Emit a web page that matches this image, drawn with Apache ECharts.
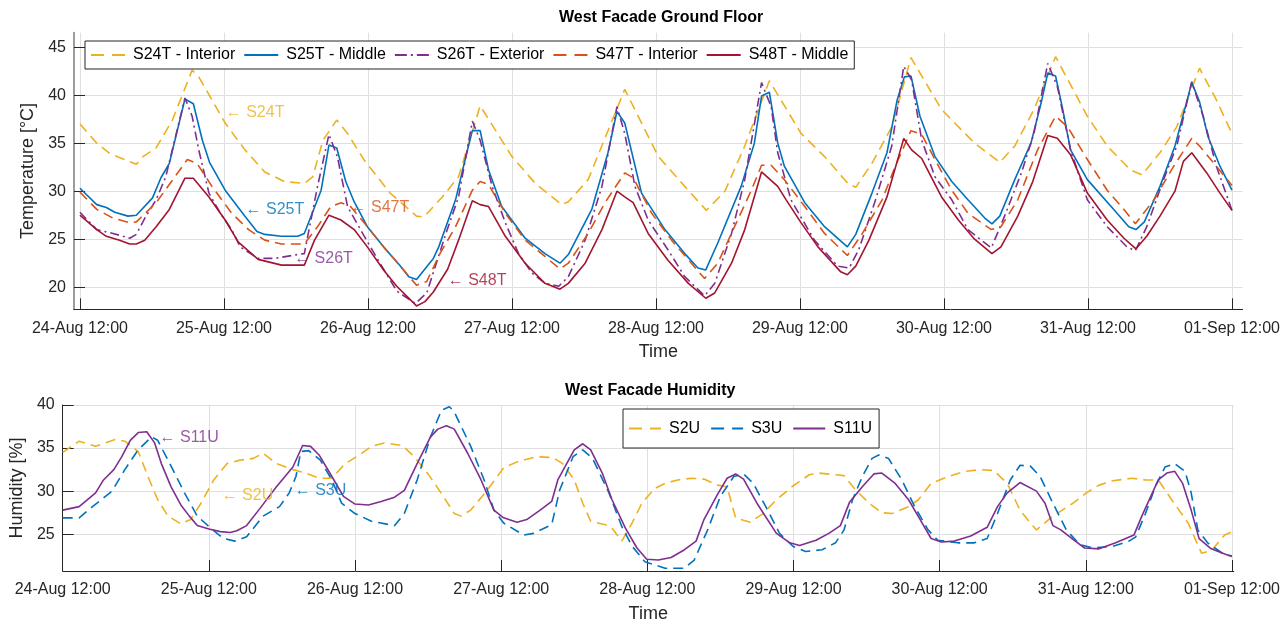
<!DOCTYPE html>
<html>
<head>
<meta charset="UTF-8">
<title>West Facade</title>
<script src="https://cdn.jsdelivr.net/npm/echarts@6/dist/echarts.min.js"></script>
<style>
  html, body { margin: 0; padding: 0; background: #fff; }
  #main { width: 1283px; height: 624px; }
</style>
</head>
<body>
<div id="main"></div>
<script>
// start of both records: 24-Aug 12:00 (hours are counted from here)
var T0 = Date.UTC(2021, 7, 24, 12, 0);
var HOUR = 3600000;
var dayTicks = [0, 24, 48, 72, 96, 120, 144, 168, 192];

// [hours, value]
var s24t = [[0,37.0],[2.8,35.0],[5,33.9],[9.4,32.8],[10.5,33.6],[12.7,34.5],[15.4,37.4],[18.7,42.6],[19.8,41.9],[22,39.5],[24.2,37.1],[27.5,34.3],[30.8,32.0],[34.1,31.0],[37.4,30.8],[38.8,31.5],[40.5,35.3],[42.8,37.4],[44.6,36.0],[47.3,33.3],[51.7,29.8],[56.1,27.4],[57.3,27.3],[60.4,29.4],[63.1,31.5],[66.7,38.9],[72,33.6],[75.9,30.8],[80.3,28.6],[81.4,28.9],[84.7,31.2],[90.8,40.6],[96.4,33.6],[100.8,30.5],[104.4,28.0],[107.5,30.0],[110.8,34.7],[114.9,41.5],[120.2,36.0],[124.1,33.6],[128,30.8],[129.3,30.4],[132,32.9],[135.3,36.7],[138.5,43.9],[143.6,38.5],[149.1,35.0],[153.3,33.0],[155.8,34.7],[159,38.5],[162.6,44.0],[167.9,37.8],[171.2,34.7],[175.1,32.2],[177,31.7],[180,34.0],[182.8,36.7],[186.6,42.8],[189.4,39.5],[192,36.0]];
var s25t = [[0,30.3],[2.8,28.6],[4.4,28.3],[5.8,27.8],[8,27.4],[9.4,27.5],[12.1,29.3],[13.5,31.4],[14.9,32.9],[17.5,39.6],[18.9,39.1],[20.4,35.3],[21.6,33.0],[24.2,30.1],[27.5,27.4],[29.5,25.8],[30.8,25.5],[33.6,25.3],[36.3,25.3],[37.4,25.6],[40.2,30.1],[41.5,34.8],[42.8,34.5],[44.3,31.0],[45.7,28.9],[47.9,26.3],[50.6,24.2],[53.4,22.2],[54.8,21.1],[56.1,20.8],[58.9,23.0],[59.8,24.2],[62.6,29.1],[64.2,33.3],[65.4,36.3],[66.7,36.3],[68.1,32.2],[70.3,28.4],[74.2,25.1],[77.5,23.5],[80,22.5],[81.4,23.4],[85.3,28.1],[88,34.0],[89.5,38.3],[90.8,37.1],[93.6,29.8],[97.5,26.0],[100.8,23.5],[103,22.0],[104.3,21.8],[106.3,24.6],[110.2,30.5],[112.4,35.0],[113.6,39.9],[114.9,40.3],[116.3,35.0],[117.4,32.6],[120.8,28.8],[124.1,26.3],[127.9,24.2],[129.3,25.5],[132,29.8],[134.5,34.0],[136.2,39.5],[137.4,41.9],[138.5,42.0],[140,37.8],[142.5,33.6],[145.3,31.0],[148,29.1],[150.8,27.2],[152,26.6],[153.3,27.4],[155.8,31.2],[158.5,35.0],[160.2,39.2],[161.3,42.3],[162.6,42.0],[163.8,38.5],[165.1,34.3],[167.9,31.2],[172.3,28.1],[174.8,26.3],[176,26.0],[177.4,26.8],[180,30.5],[182.5,34.7],[185.3,41.3],[186.6,39.3],[188,35.7],[190,32.6],[192,30.1]];
var s26t = [[0,27.8],[2.8,26.0],[5.5,25.6],[8.3,25.1],[9.4,25.5],[11,27.4],[12.7,29.1],[14.3,31.5],[17.5,39.7],[18.7,37.8],[19.8,34.3],[21.5,29.8],[23.4,27.7],[25.3,26.0],[26.7,24.2],[29.7,23.0],[32.5,23.0],[36.3,23.4],[37.4,23.5],[39.6,30.5],[41.5,35.9],[42.9,33.6],[44.6,28.4],[47.3,25.4],[50.1,22.4],[52.8,19.6],[55.9,18.3],[57.8,19.4],[61,25.6],[63.1,29.4],[65.4,37.3],[66.7,35.3],[68.7,30.5],[70.9,26.7],[73.1,23.5],[75.3,21.5],[77.5,20.4],[79.8,20.1],[81.4,21.1],[84.2,24.9],[87,30.5],[89.5,38.8],[90.8,36.0],[92.5,30.5],[94.7,27.0],[98,23.9],[100.8,21.1],[104.1,19.1],[105.8,20.4],[108.6,25.6],[110.8,31.2],[113.6,41.3],[115.2,38.8],[116.3,34.0],[118.5,29.1],[122.4,24.9],[126.3,22.2],[128.2,22.0],[129.8,23.9],[132.6,29.1],[135.3,34.7],[137.3,43.0],[138.6,41.6],[140.3,35.3],[142.5,31.5],[145.3,29.1],[148,26.0],[150.2,24.9],[151.9,24.1],[154.1,27.4],[156.9,31.9],[159,36.0],[161.3,43.3],[162.9,40.9],[165.1,34.3],[167.9,29.1],[171.2,26.3],[174.5,24.2],[175.9,23.8],[177.8,26.3],[180.6,31.2],[182.8,34.7],[185.3,41.4],[187.2,37.8],[189.4,32.6],[192,28.0]];
var s47t = [[0,29.9],[2.8,28.1],[5.5,27.2],[8.3,26.7],[9.4,26.8],[12.7,28.8],[14.9,30.7],[17.9,33.3],[19.5,32.9],[22,30.5],[25.3,27.7],[28.1,26.0],[30.8,24.9],[33.6,24.5],[37.4,24.5],[39.6,26.3],[41.8,28.4],[43.5,28.8],[45.1,28.4],[47.9,26.3],[50.6,24.2],[53.4,22.2],[56.1,20.2],[57.8,20.6],[60,23.5],[62.6,26.3],[65.4,30.1],[66.7,31.0],[68.1,30.7],[70.9,27.7],[74.2,24.9],[77.5,23.2],[80,21.9],[81.4,22.5],[84.7,25.6],[87.5,28.8],[90.8,31.9],[92.2,31.4],[95.3,27.7],[98.6,24.9],[101.9,22.5],[104.1,20.9],[106.3,22.5],[109.1,26.3],[111.9,30.1],[113.6,32.7],[115.2,32.7],[117.4,31.2],[120.8,28.4],[124.1,25.6],[127.9,23.3],[130.4,25.6],[133.7,29.1],[135.9,32.6],[138.5,36.3],[140.3,35.9],[142.5,33.3],[145.3,30.1],[148,27.7],[151.9,26.0],[153.5,26.3],[156.3,29.1],[159.6,34.3],[162.6,37.8],[164.6,36.7],[167.9,33.3],[171.2,30.1],[174,28.1],[175.9,26.6],[179,29.1],[182.3,32.6],[185.3,35.5],[186.6,34.7],[189.4,32.6],[192,30.6]];
var s48t = [[0,27.5],[2.8,26.0],[4.4,25.3],[6.6,24.9],[8.3,24.5],[9.4,24.5],[10.8,24.9],[12.7,26.3],[14.9,28.1],[17.5,31.35],[18.9,31.35],[21.5,29.4],[24.2,27.0],[26.4,24.7],[29.7,22.9],[33.6,22.3],[37.4,22.3],[39.1,24.9],[41.5,27.5],[43.5,27.0],[45.7,26.0],[47.9,24.2],[50.6,21.8],[52.8,20.1],[56.1,18.05],[57.5,18.5],[58.9,19.5],[61.3,21.9],[63.1,24.9],[65.4,29.0],[66.7,28.6],[68.1,28.4],[70.9,25.3],[74.2,22.5],[77.5,20.4],[80,19.8],[81.4,20.4],[84.2,22.5],[87,26.0],[89.5,30.0],[90.8,29.4],[92.2,28.8],[94.7,25.6],[98,22.8],[101.4,20.4],[104.3,18.85],[105.8,19.4],[108.6,22.5],[110.8,26.0],[113.6,32.0],[116.3,30.5],[117.7,29.1],[120.2,26.7],[123,24.2],[126.8,21.6],[127.9,21.3],[129.3,22.2],[131.5,24.9],[134.5,29.4],[137.3,35.5],[138.6,34.3],[140.3,33.4],[143.6,29.4],[146.4,27.0],[149.1,25.0],[152,23.5],[153.5,24.2],[156.3,27.4],[158.8,31.0],[161.3,35.8],[162.9,35.5],[165.1,33.8],[167.9,29.8],[171.2,27.0],[174,25.1],[176,24.0],[177.8,25.3],[180,27.4],[182.5,30.0],[183.9,33.1],[185.3,34.0],[187.8,31.9],[190,29.8],[192,28.0]];

var s2u = [[0,34.5],[2.7,35.8],[5.4,35.2],[8.6,36.0],[10.2,35.8],[12.4,34.6],[14,31.7],[15.6,29.0],[17.3,27.1],[19.4,26.2],[21,26.7],[22.7,28.6],[24.8,31.3],[27,33.2],[29.1,33.6],[31.3,33.8],[32.9,34.4],[35.1,33.2],[37.8,32.5],[39.9,32.1],[42.1,31.5],[44.2,31.5],[46.4,33.2],[48.5,34.1],[50.7,35.2],[52.8,35.6],[55.8,35.3],[57.7,34.0],[60,32.0],[62.4,29.5],[64.3,27.4],[65.4,27.1],[67,27.8],[69.7,30.1],[72.4,32.7],[74.6,33.4],[77.8,34.0],[80.5,33.9],[82.1,33.2],[84,31.3],[85.4,28.6],[86.7,26.5],[89.1,26.1],[90.2,25.7],[91.8,24.2],[93.5,26.3],[95.1,28.6],[97.2,30.3],[98.9,30.9],[101,31.3],[103.2,31.5],[105.3,31.4],[107.5,30.7],[109.1,30.5],[110.5,26.9],[112.9,26.4],[115,27.4],[117.2,29.0],[119.9,30.6],[122.6,31.9],[124.2,32.1],[126.9,31.9],[128.3,31.8],[130,30.3],[132.4,28.6],[134.5,27.5],[136.2,27.4],[138.9,28.2],[140.5,29.0],[142.6,30.9],[145.4,31.7],[148.1,32.3],[150.8,32.5],[152.9,32.4],[155.1,30.9],[157.2,27.8],[158.9,26.3],[159.9,25.5],[162.6,27.1],[165.9,28.6],[168.1,29.8],[170.2,30.7],[172.4,31.2],[175.6,31.5],[177.8,31.3],[179.9,31.3],[182.1,29.0],[184.8,26.3],[187,22.8],[188.6,23.1],[190.8,24.9],[192,25.3]];
var s3u = [[0,26.9],[2.7,26.9],[4.9,28.2],[8.1,30.0],[10.2,32.5],[12.4,34.8],[14.6,36.3],[15.6,35.9],[17.8,32.9],[20,29.8],[22.1,27.1],[24.3,25.7],[26.4,24.5],[28.3,24.2],[30.2,24.7],[32.9,27.1],[35.6,28.2],[37.2,29.8],[38.3,31.7],[39.1,34.6],[40.4,34.7],[42.3,33.6],[44.2,31.3],[45.8,28.6],[48,27.4],[50.7,26.5],[54.5,26.0],[56.1,27.4],[58.2,31.3],[60.4,36.3],[62.2,39.4],[63.5,39.8],[64.3,39.2],[67,35.2],[69.2,31.3],[70.8,27.8],[72.4,26.3],[75.7,24.9],[77.3,25.1],[80.3,26.1],[81.6,30.1],[83.8,34.0],[85.4,34.8],[87,33.8],[89.7,29.8],[91.8,25.9],[93.5,23.6],[95.6,21.8],[98.9,21.05],[102.1,21.05],[103.7,22.0],[105.9,25.5],[108,29.4],[110.2,31.7],[111.8,32.0],[113.4,30.9],[115.6,28.0],[117.7,25.1],[119.9,23.6],[122,23.0],[124.7,23.2],[126.9,24.0],[128.3,25.5],[129.7,29.0],[131.3,31.7],[132.9,33.8],[134,34.2],[135.6,33.8],[137.8,31.3],[139.9,28.2],[142.1,25.5],[143.7,24.3],[147,24.0],[149.7,24.0],[151.8,24.5],[153.5,27.4],[155.6,31.3],[157.2,33.0],[158.9,32.9],[160.5,31.7],[162.6,28.6],[164.8,25.5],[167,23.8],[169.1,23.4],[172.4,23.6],[175.1,24.2],[176.2,24.7],[177.8,27.4],[179.4,30.5],[181,32.8],[182.6,33.2],[184.3,32.3],[185.3,29.8],[186.4,25.5],[188,24.0],[190.8,22.6],[192,22.5]];
var s11u = [[0,27.8],[2.7,28.2],[5.4,29.8],[6.7,31.3],[8.4,32.5],[9.7,34.0],[11.1,35.9],[12.4,36.8],[13.8,36.9],[15.1,35.6],[16.2,33.2],[17.8,30.5],[19.4,28.4],[20.8,27.1],[22.1,26.0],[24,25.6],[25.9,25.3],[27.5,25.2],[28.6,25.4],[30.2,26.0],[32.4,28.0],[35.1,30.5],[37.8,32.8],[39.4,35.3],[40.7,35.2],[42.1,34.2],[44.2,31.7],[46.1,29.4],[48,28.5],[50.2,28.4],[52.3,28.8],[54.5,29.3],[56.1,30.1],[58.2,33.2],[60.4,36.3],[61.6,37.2],[63,37.6],[64.3,37.2],[66.5,34.4],[68.7,31.3],[70.8,27.8],[72.4,26.9],[74.6,26.4],[76.2,26.7],[78.4,27.8],[80.3,28.8],[81.3,31.3],[84,34.8],[85.4,35.5],[86.7,34.8],[88.6,32.1],[90.2,29.0],[92.4,25.7],[94.3,23.4],[95.9,22.1],[97.8,22.0],[99.9,22.3],[102.1,23.2],[104,24.2],[105.3,26.7],[107.5,29.6],[109.1,31.5],[110.5,32.0],[111.8,31.4],[114,28.6],[117.2,25.1],[119.4,24.0],[121,23.7],[123.7,24.3],[125.8,25.1],[127.7,26.0],[129.2,28.7],[131.3,30.5],[133.2,32.0],[134.5,32.1],[136.7,30.9],[138.9,29.0],[140.8,26.7],[142.6,24.5],[144.3,24.1],[146.4,24.2],[149.1,24.8],[151.8,25.8],[153.5,28.2],[155.1,29.8],[157.2,31.0],[159.9,30.0],[161.3,28.6],[162.6,26.0],[163.9,25.5],[165.9,24.4],[167.8,23.4],[170.2,23.3],[172.9,24.0],[175.9,24.9],[177.2,27.1],[179.9,31.3],[181.3,32.1],[182.6,32.3],[183.9,30.9],[185.3,27.8],[186.6,24.5],[188.6,23.3],[190.8,22.7],[192,22.4]];

// text labels [name, hours, value]
var tempNotes = [['S24T', 24.3, 38.15], ['S25T', 27.6, 28.05], ['S47T', 45.1, 28.3], ['S26T', 35.7, 23.0], ['S48T', 61.3, 20.65]];
var humNotes = [['S11U', 15.9, 36.2], ['S2U', 26.1, 29.5], ['S3U', 38.1, 30.1]];

var tempTicks = [20, 25, 30, 35, 40, 45];
var humTicks = [25, 30, 35, 40];

var colors = {
  S24T: '#EDB120', S25T: '#0072BD', S26T: '#7E2F8E', S47T: '#D95319', S48T: '#A2142F',
  S2U: '#EDB120', S3U: '#0072BD', S11U: '#7E2F8E'
};

var FONT = '"Liberation Sans", Arial, sans-serif';
var INK = '#262626';
var GRID = '#dfdfdf';
var MONTHS = ['Jan','Feb','Mar','Apr','May','Jun','Jul','Aug','Sep','Oct','Nov','Dec'];

function toTime(arr) {
  return arr.map(function (p) { return [T0 + p[0] * HOUR, p[1]]; });
}
function pad(n) { return (n < 10 ? '0' : '') + n; }
function fmtDate(v) {
  var d = new Date(v);
  return pad(d.getUTCDate()) + '-' + MONTHS[d.getUTCMonth()] + ' ' + pad(d.getUTCHours()) + ':' + pad(d.getUTCMinutes());
}
var tickTimes = dayTicks.map(function (h) { return T0 + h * HOUR; });

function xAxis(idx, minH, maxH) {
  return {
    type: 'value', gridIndex: idx,
    min: T0 + minH * HOUR, max: T0 + maxH * HOUR,
    name: 'Time', nameLocation: 'middle', nameGap: 34,
    nameTextStyle: { fontFamily: FONT, fontSize: 18, color: INK },
    axisLine: { show: true, onZero: false, lineStyle: { color: INK, width: 1 } },
    axisTick: { show: true, inside: true, length: 11, customValues: tickTimes, lineStyle: { color: INK } },
    axisLabel: { customValues: tickTimes, formatter: fmtDate, margin: 11, fontFamily: FONT, fontSize: 16, color: INK },
    splitLine: { show: true, lineStyle: { color: GRID, width: 1 } }
  };
}
function yAxis(idx, min, max, ticks, name, gap, lineColor, lineWidth) {
  return {
    type: 'value', gridIndex: idx, min: min, max: max,
    name: name, nameLocation: 'middle', nameGap: gap,
    nameTextStyle: { fontFamily: FONT, fontSize: 18, color: INK },
    axisLine: { show: true, lineStyle: { color: lineColor, width: lineWidth } },
    axisTick: { show: true, inside: true, length: 11, customValues: ticks, lineStyle: { color: INK } },
    axisLabel: { customValues: ticks, margin: 8, fontFamily: FONT, fontSize: 16, color: INK },
    splitLine: { show: true, lineStyle: { color: GRID, width: 1 } }
  };
}
function lineSeries(name, key, data, idx, dash) {
  return {
    name: name, type: 'line', xAxisIndex: idx, yAxisIndex: idx,
    data: toTime(data), showSymbol: false, symbol: 'none',
    lineStyle: { color: colors[key], width: 1.6, type: dash },
    itemStyle: { color: colors[key] },
    z: 3
  };
}
function noteSeries(notes, idx) {
  return {
    type: 'scatter', xAxisIndex: idx, yAxisIndex: idx, symbolSize: 0, silent: true, z: 4,
    data: notes.map(function (n) {
      return {
        value: [T0 + n[1] * HOUR, n[2]],
        label: { show: true, position: 'right', distance: 0, formatter: '\u2190 ' + n[0],
          color: colors[n[0]], fontFamily: FONT, fontSize: 16 }
      };
    })
  };
}
function legendItem(name, dash) {
  return { name: name, lineStyle: { type: dash, width: 2 } };
}

var DASH = [10, 6];
var DASHDOT = [9, 4, 2, 4];
var LEG_DASH = [13, 8];
var LEG_DASHDOT = [12, 4, 2, 4];

var chart = echarts.init(document.getElementById('main'), null, { renderer: 'canvas' });
chart.setOption({
  animation: false,
  backgroundColor: '#fff',
  title: [
    { text: 'West Facade Ground Floor', left: 559, top: 10, padding: 0,
      textStyle: { fontFamily: FONT, fontSize: 16, fontWeight: 'bold', color: '#000' } },
    { text: 'West Facade Humidity', left: 565, top: 383, padding: 0,
      textStyle: { fontFamily: FONT, fontSize: 16, fontWeight: 'bold', color: '#000' } }
  ],
  legend: [
    { data: [legendItem('S24T - Interior', LEG_DASH), legendItem('S25T - Middle', 'solid'),
             legendItem('S26T - Exterior', LEG_DASHDOT), legendItem('S47T - Interior', LEG_DASH),
             legendItem('S48T - Middle', 'solid')],
      left: 85, top: 41, orient: 'horizontal', padding: [5, 6, 5, 5],
      itemWidth: 34, itemHeight: 16, itemGap: 8,
      itemStyle: { opacity: 0 },
      backgroundColor: '#fff', borderColor: INK, borderWidth: 1,
      textStyle: { fontFamily: FONT, fontSize: 16, color: '#000', padding: [0, 0, 0, 3], lineHeight: 18 } },
    { data: [legendItem('S2U', LEG_DASH), legendItem('S3U', LEG_DASH), legendItem('S11U', 'solid')],
      left: 623, top: 409, orient: 'horizontal', padding: [10, 7, 10, 5],
      itemWidth: 32, itemHeight: 16, itemGap: 10,
      itemStyle: { opacity: 0 },
      backgroundColor: '#fff', borderColor: INK, borderWidth: 1,
      textStyle: { fontFamily: FONT, fontSize: 16, color: '#000', padding: [0, 0, 0, 3], lineHeight: 19 } }
  ],
  grid: [
    { left: 74, top: 32.7, width: 1179, height: 276.6 },
    { left: 60, top: 405, width: 1186, height: 166 }
  ],
  xAxis: [xAxis(0, -0.99, 193.77), xAxis(1, 0, 192.3)],
  yAxis: [
    yAxis(0, 17.7, 46.5, tempTicks, 'Temperature [\u00B0C]', 29, '#9c9c9c', 2),
    yAxis(1, 20.73, 40, humTicks, 'Humidity [%]', 33, INK, 1)
  ],
  series: [
    lineSeries('S24T - Interior', 'S24T', s24t, 0, DASH),
    lineSeries('S25T - Middle', 'S25T', s25t, 0, 'solid'),
    lineSeries('S26T - Exterior', 'S26T', s26t, 0, DASHDOT),
    lineSeries('S47T - Interior', 'S47T', s47t, 0, DASH),
    lineSeries('S48T - Middle', 'S48T', s48t, 0, 'solid'),
    noteSeries(tempNotes, 0),
    lineSeries('S2U', 'S2U', s2u, 1, DASH),
    lineSeries('S3U', 'S3U', s3u, 1, DASH),
    lineSeries('S11U', 'S11U', s11u, 1, 'solid'),
    noteSeries(humNotes, 1)
  ]
});
</script>
</body>
</html>
